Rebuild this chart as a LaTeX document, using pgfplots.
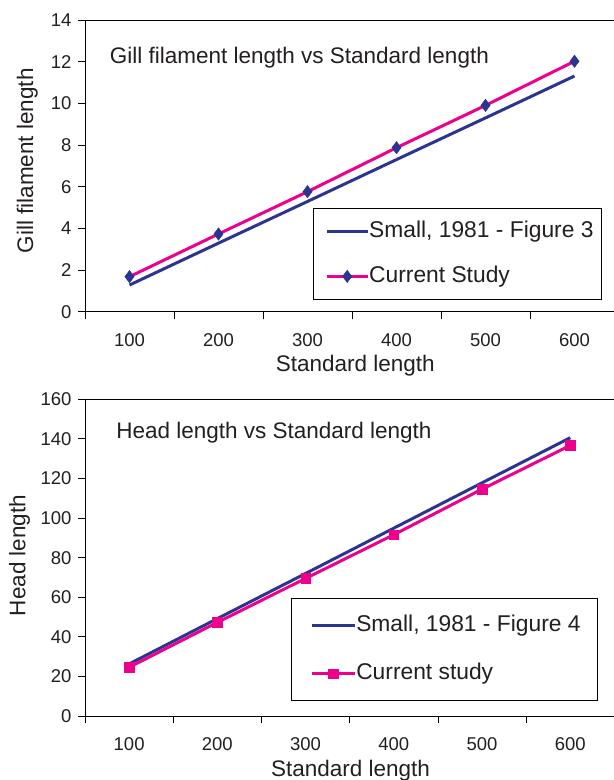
\documentclass[border=0pt]{standalone}
\usepackage{fontspec}
\setmainfont{Liberation Sans}
\usepackage{pgfplots}
\pgfplotsset{compat=1.18}

\definecolor{navy}{RGB}{44,52,145}
\definecolor{pinkline}{RGB}{236,0,140}
\definecolor{txt}{RGB}{35,31,32}

\pgfplotsset{
  fishaxis/.style={
    scale only axis,
    xmin=0.5, xmax=6.5,
    xtick={0.5,1.5,...,6.5},
    x tick label as interval,
    xticklabels={100,200,300,400,500,600},
    tick align=outside,
    xtick pos=bottom, ytick pos=left,
    major tick length=7bp,
    tick style={black, line width=0.8bp},
    axis line style={black, line width=0.8bp},
    ticklabel style={font=\fontsize{18.5bp}{22bp}\selectfont, text=txt},
    xticklabel style={inner sep=0pt, yshift=-14.5bp},
    yticklabel style={inner sep=0pt, xshift=-6.4bp},
    /pgf/number format/assume math mode=true,
    label style={font=\fontsize{22.5bp}{27bp}\selectfont, text=txt},
    every axis title shift=0pt,
    title style={font=\fontsize{22.5bp}{27bp}\selectfont, text=txt, anchor=west},
    legend cell align=left,
    legend style={draw=black, line width=0.8bp, text=txt,
      font=\fontsize{22.8bp}{27bp}\selectfont,
      nodes={inner sep=0pt, text height=17bp, text depth=5bp},
      anchor=north east},
  },
}

\begin{document}
\begin{tikzpicture}
\path[use as bounding box] (0,0) rectangle (614bp,780bp);

% upper panel: gill filament length
\begin{axis}[fishaxis,
    at={(85bp,468.3bp)}, anchor=south west,
    width=534bp, height=291.7bp,
    ymin=0, ymax=14, ytick={0,2,...,14},
    xlabel={Standard length},
    ylabel={Gill filament length},
    xlabel style={at={(axis description cs:0.506,-0.186)}, anchor=center},
    ylabel style={at={(axis description cs:-0.108,0.517)}, anchor=center},
    title={Gill filament length vs Standard length},
    title style={at={(axis description cs:0.040,0.870)}},
    legend style={at={(0.968,0.3555)}, inner xsep=8bp, inner ysep=12.5bp,
      row sep=22.5bp},
    legend image code/.code={
      \path (0bp,0bp);
      \draw[mark repeat=2,mark phase=2,#1] plot coordinates {(4bp,0bp) (24.5bp,0bp) (45bp,0bp)};},
  ]
  \addplot[navy, line width=3bp, mark=none] coordinates {
    (1,1.28) (2,3.29) (3,5.29) (4,7.30) (5,9.30) (6,11.31)
  };
  \addlegendentry{Small, 1981 - Figure 3}
  \addplot[pinkline, line width=3bp, mark=diamond*, mark size=6.2bp,
    mark options={fill=navy, draw=navy, line width=0.4bp}] coordinates {
    (1,1.68) (2,3.73) (3,5.76) (4,7.87) (5,9.90) (6,12.02)
  };
  \addlegendentry{Current Study}
\end{axis}

% lower panel: head length
\begin{axis}[fishaxis,
    at={(85bp,64bp)}, anchor=south west,
    width=529.4bp, height=316.7bp,
    ymin=0, ymax=160, ytick={0,20,...,160},
    xlabel={Standard length},
    ylabel={Head length},
    xlabel style={at={(axis description cs:0.5015,-0.172)}, anchor=center},
    ylabel style={at={(axis description cs:-0.1235,0.507)}, anchor=center},
    title={Head length vs Standard length},
    title style={at={(axis description cs:0.0525,0.8945)}},
    legend style={at={(0.969,0.3716)}, inner xsep=17bp, inner ysep=15.5bp,
      row sep=26.4bp},
    legend image code/.code={
      \path (0bp,0bp);
      \draw[mark repeat=2,mark phase=2,#1] plot coordinates {(2bp,0bp) (23.3bp,0bp) (44.7bp,0bp)};},
  ]
  \addplot[navy, line width=3bp, mark=none] coordinates {
    (1,26.3) (2,49.2) (3,72.0) (4,94.9) (5,117.8) (6,140.6)
  };
  \addlegendentry{Small, 1981 - Figure 4}
  \addplot[pinkline, line width=3bp, mark=square*, mark size=4.8bp,
    mark options={fill=pinkline, draw=pinkline, line width=0.4bp}] coordinates {
    (1,24.6) (2,47.3) (3,69.5) (4,91.6) (5,114.6) (6,136.7)
  };
  \addlegendentry{Current study}
\end{axis}
\end{tikzpicture}
\end{document}
